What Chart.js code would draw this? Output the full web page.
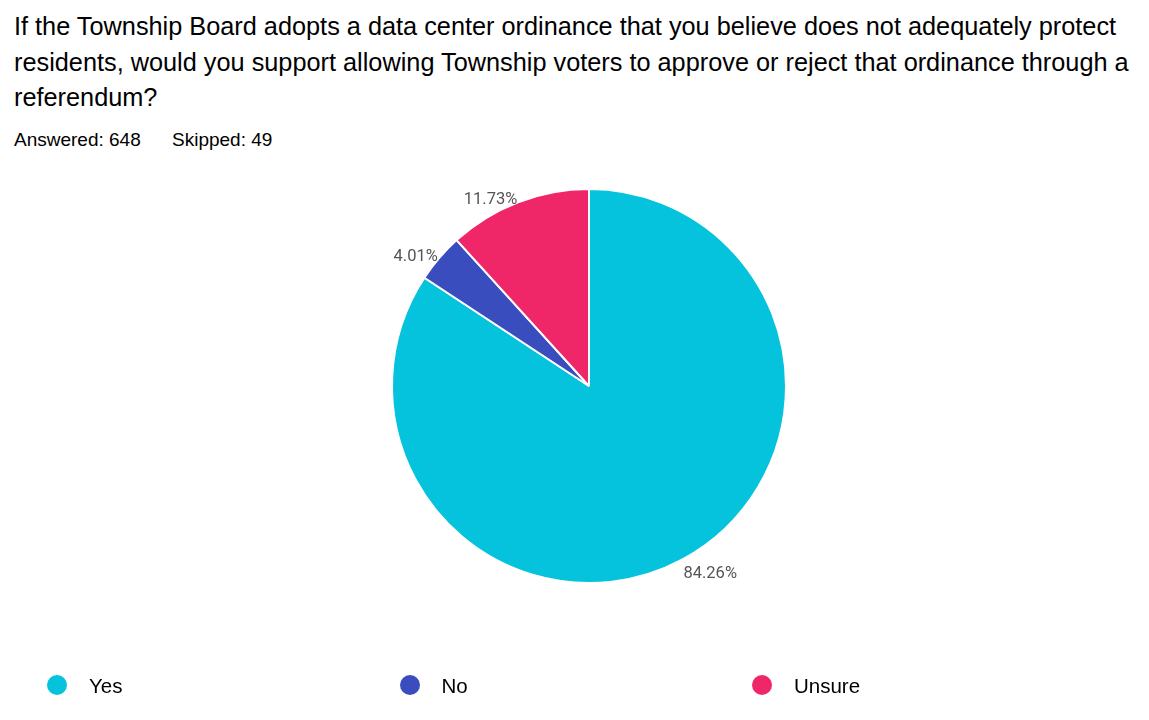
<!DOCTYPE html>
<html>
<head>
<meta charset="utf-8">
<script src="https://cdn.jsdelivr.net/npm/chart.js@4.4.1/dist/chart.umd.min.js"></script>
<style>
  html, body { margin: 0; padding: 0; background: #fff; }
  body { width: 1149px; height: 720px; position: relative; overflow: hidden; font-family: "Liberation Sans", Arial, sans-serif; color: #000; }
  #pie { position: absolute; left: 0; top: 0; }
  #titulo { position: absolute; left: 14px; top: 9px; font-size: 25.3px; line-height: 35.5px; white-space: nowrap; }
  .sub { position: absolute; top: 129px; font-size: 19px; line-height: 21.8px; white-space: nowrap; }
  #leyenda { position: absolute; left: 47px; top: 675px; display: flex; }
  .item { width: 352.5px; display: flex; align-items: center; height: 20px; }
  .dot { width: 20px; height: 20px; border-radius: 50%; margin-right: 22px; flex: none; }
  .item span { font-size: 20.5px; line-height: 20px; position: relative; top: 1px; }
</style>
</head>
<body>
<div id="titulo">If the Township Board adopts a data center ordinance that you believe does not adequately protect<br>residents, would you support allowing Township voters to approve or reject that ordinance through a<br>referendum?</div>
<div class="sub" style="left:14px">Answered: 648</div>
<div class="sub" style="left:172px">Skipped: 49</div>
<canvas id="pie" width="1149" height="720"></canvas>
<div id="leyenda"></div>

<script>
const respuestas = ["Yes", "No", "Unsure"];
const porcentajes = [84.26, 4.01, 11.73];
const colores = ["#05C3DD", "#3A4DBF", "#EF2668"];

const leyenda = document.getElementById("leyenda");
respuestas.forEach((r, i) => {
  const item = document.createElement("div");
  item.className = "item";
  const dot = document.createElement("div");
  dot.className = "dot";
  dot.style.background = colores[i];
  const txt = document.createElement("span");
  txt.innerText = r;
  item.appendChild(dot);
  item.appendChild(txt);
  leyenda.appendChild(item);
});

// etiquetas de porcentaje fuera del pastel, esquina mas cercana en el angulo medio
const etiquetas = {
  id: "etiquetas",
  afterDatasetsDraw(chart) {
    const ctx = chart.ctx;
    const arcs = chart.getDatasetMeta(0).data;
    ctx.save();
    ctx.font = '16.5px Roboto, "Noto Sans", sans-serif';
    ctx.fillStyle = "#555555";
    arcs.forEach((arc, i) => {
      const mid = (arc.startAngle + arc.endAngle) / 2;
      const dx = Math.cos(mid), dy = Math.sin(mid);
      const r = arc.outerRadius + 2;
      const x = arc.x + dx * r;
      const y = arc.y + dy * r + 4;
      ctx.textAlign = dx >= 0 ? "left" : "right";
      ctx.textBaseline = dy >= 0 ? "top" : "alphabetic";
      ctx.fillText(porcentajes[i].toFixed(2) + "%", x, y);
    });
    ctx.restore();
  }
};

const ctx = document.getElementById("pie").getContext("2d");
new Chart(ctx, {
  type: "pie",
  data: {
    labels: respuestas,
    datasets: [{
      data: porcentajes,
      backgroundColor: colores,
      borderColor: "#ffffff",
      borderWidth: 2,
    }],
  },
  options: {
    responsive: false,
    animation: false,
    layout: { padding: { top: 188, bottom: 136, left: 391, right: 362 } },
    plugins: {
      legend: { display: false },
      title: { display: false },
      tooltip: { enabled: false },
    },
  },
  plugins: [etiquetas],
});
</script>
</body>
</html>
